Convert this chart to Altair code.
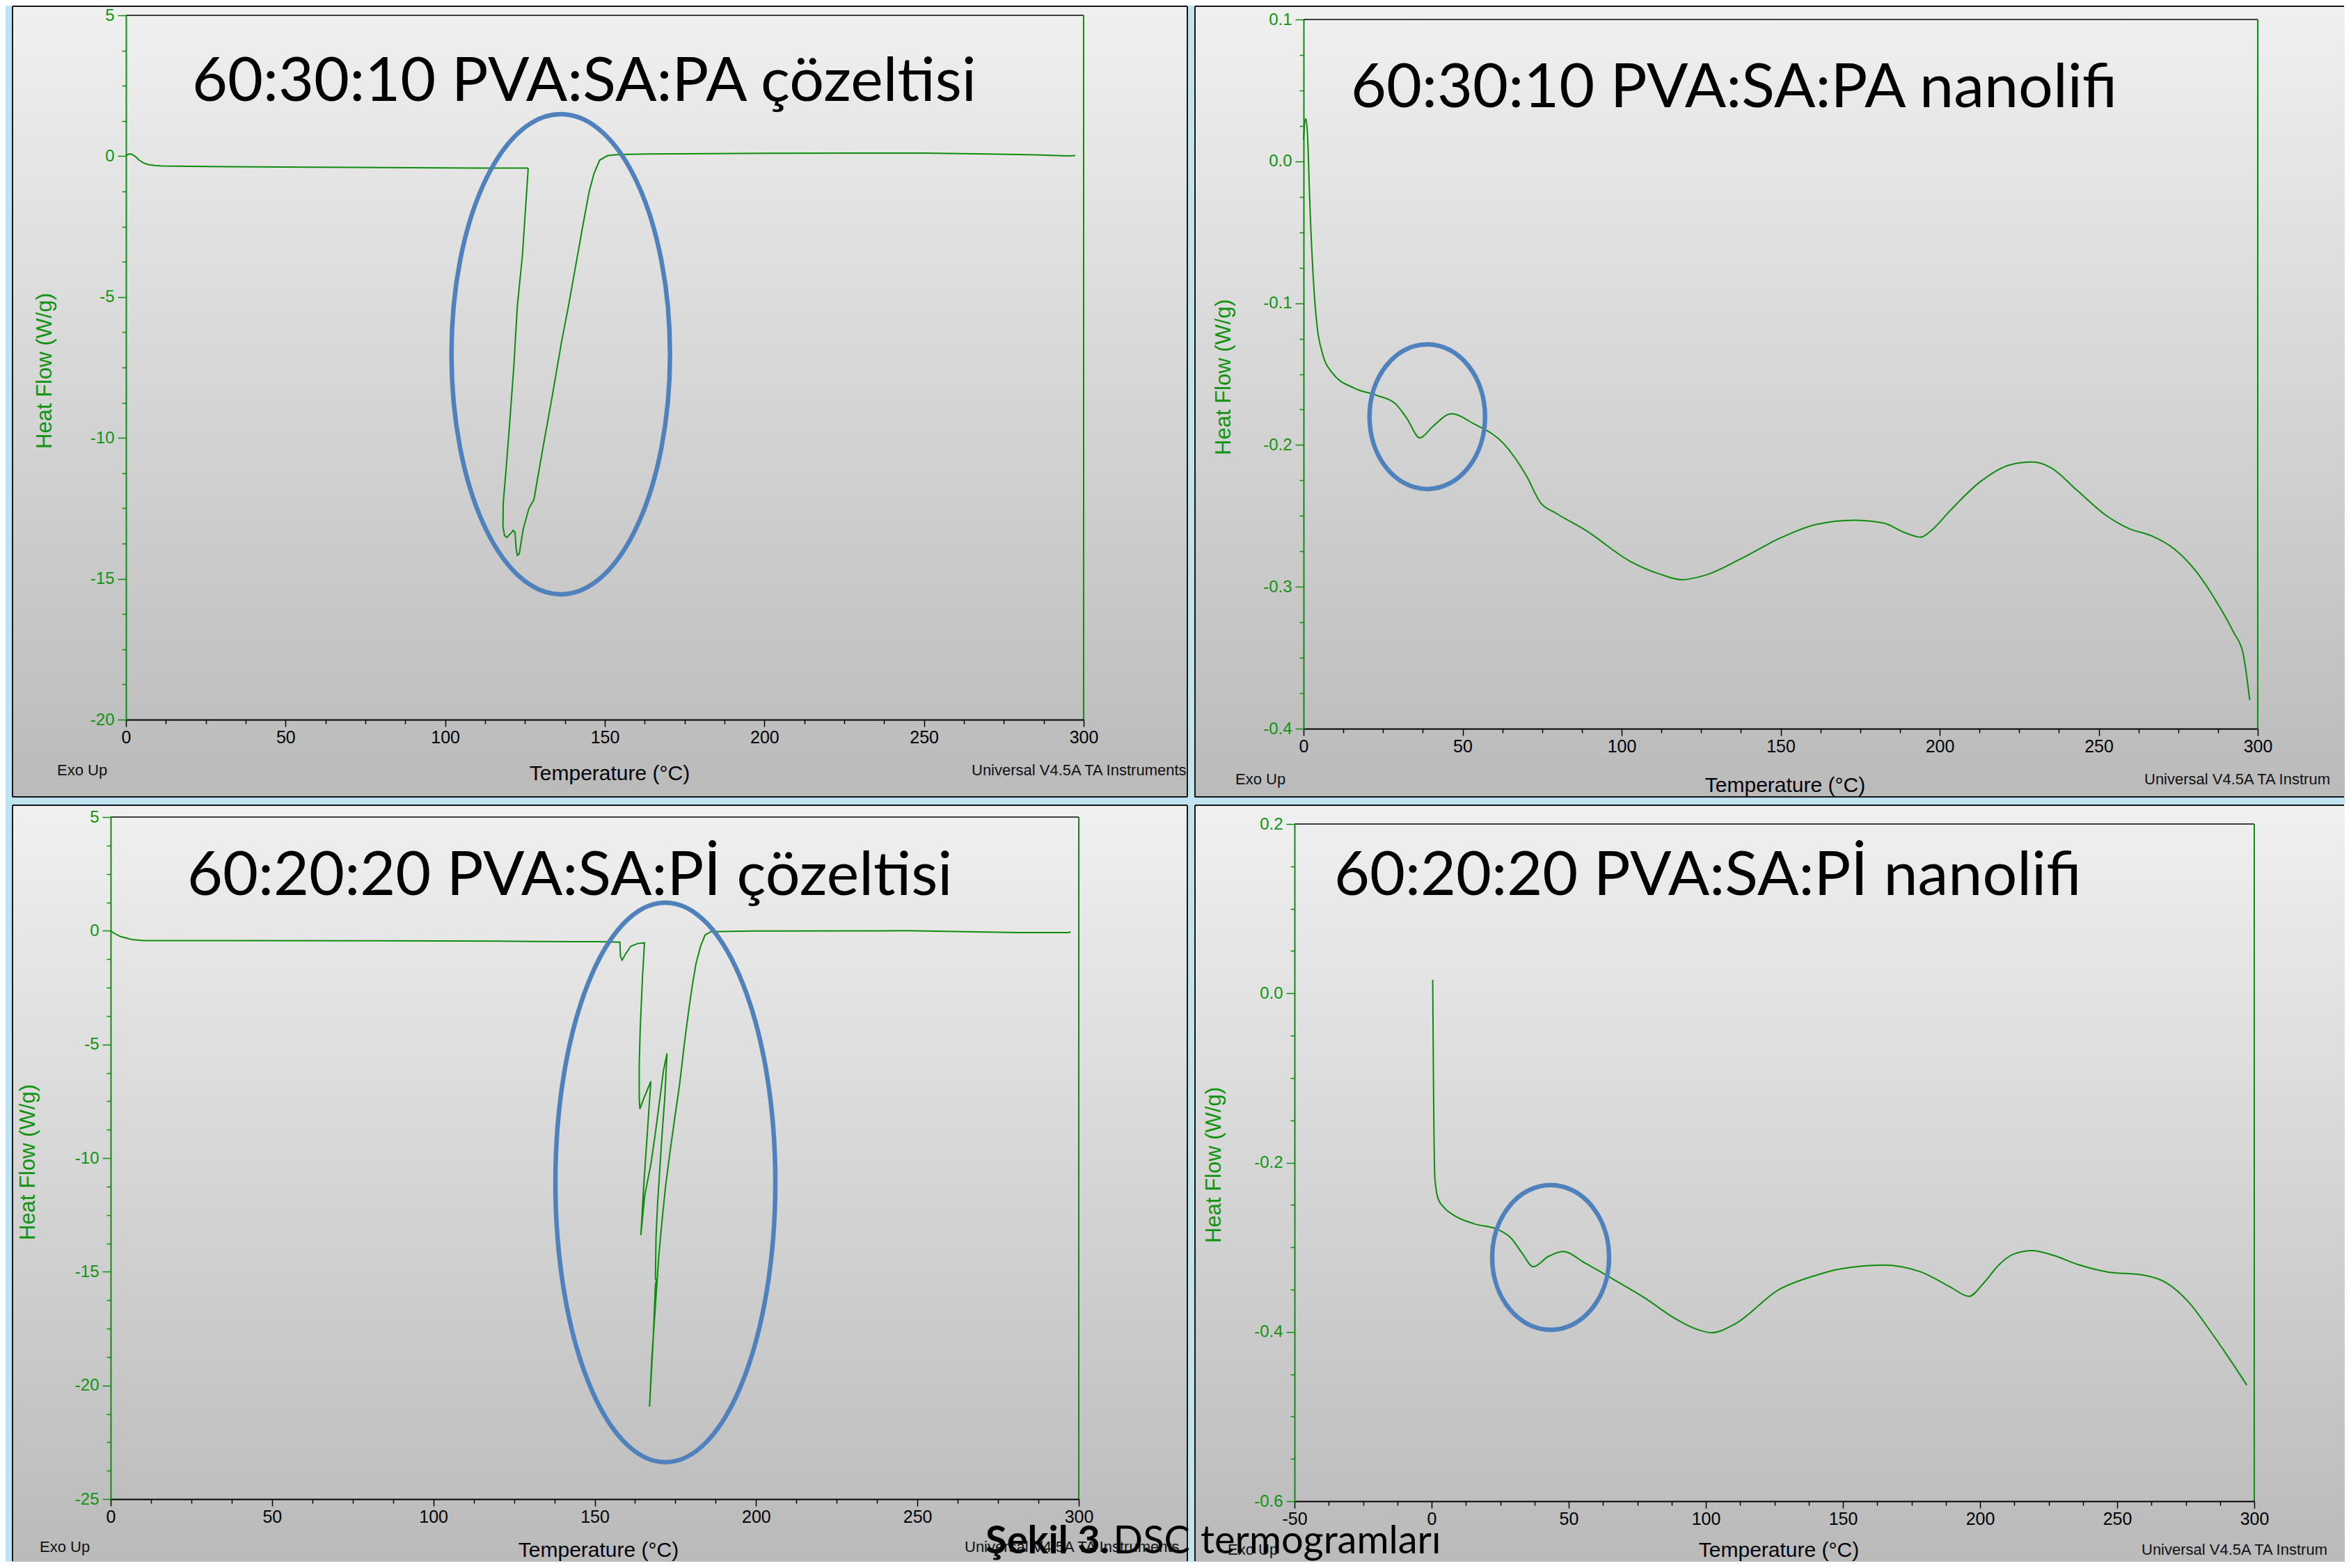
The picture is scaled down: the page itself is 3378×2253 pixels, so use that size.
import altair as alt
import pandas as pd

# ---------------- data ----------------
P1_T = [0, 0.8, 1.6, 2.8, 4.1, 5.5, 7.0, 9.0, 11.4, 20, 31.8, 58.6, 90, 110, 125.8, 126.0,
        124.2, 122.6, 121.5, 120.1, 119.0, 118.2, 118.1, 118.6, 119.3, 120.8,
        121.3, 121.9, 122.2, 122.6, 123.2, 124.4, 126.2, 127.8, 128.8, 130.6,
        133.5, 136.4, 138.6, 140.8, 143.0, 145.1, 146.6, 148.4, 150.9, 154.6,
        163.3, 200, 230, 250, 270, 285, 295, 297.4]
P1_Y = [0.02, 0.07, 0.08, 0.0, -0.14, -0.24, -0.30, -0.33, -0.35, -0.36, -0.37, -0.39, -0.41, -0.42, -0.42, -0.45,
        -3.51, -5.33, -7.47, -9.62, -11.22, -12.29, -13.15, -13.47, -13.53, -13.36,
        -13.28, -13.36, -13.90, -14.17, -14.12, -13.26, -12.51, -12.19, -11.54, -10.37,
        -8.54, -6.62, -5.33, -3.94, -2.54, -1.26, -0.62, -0.14, 0.02, 0.06,
        0.08, 0.10, 0.11, 0.11, 0.08, 0.05, 0.01, 0.02]

P2_T = [0.0, 0.4, 0.8, 1.3, 1.9, 3.1, 4.3, 5.9, 9.0, 16.0,
        23.0, 28.9, 32.4, 36.6, 40.6, 46.5, 53.5, 62.9, 69.9, 74.6,
        79.3, 88.6, 102.7, 112.0, 119.0, 126.0, 137.7, 149.5, 161.2, 172.9,
        182.3, 189.3, 194.0, 197.5, 203.4, 212.7, 222.1, 229.1, 235.0, 243.2,
        252.5, 259.6, 266.6, 273.6, 280.6, 287.7, 292.4, 295.4, 296.4, 297.5]
P2_Y = [0.015, 0.028, 0.030, 0.016, -0.025, -0.084, -0.117, -0.135, -0.149, -0.160,
        -0.165, -0.171, -0.181, -0.195, -0.187, -0.178, -0.185, -0.199, -0.221, -0.241,
        -0.248, -0.260, -0.282, -0.291, -0.295, -0.292, -0.280, -0.266, -0.256, -0.253,
        -0.255, -0.262, -0.265, -0.260, -0.246, -0.226, -0.214, -0.212, -0.216, -0.232,
        -0.250, -0.259, -0.264, -0.273, -0.289, -0.313, -0.332, -0.347, -0.361, -0.380]

P3_T = [0, 0.8, 3.1, 6.6, 10.1, 40, 82.6, 120, 142.5, 150.4,
        157.8, 158.0, 158.5, 159.4, 161.2, 163.4, 165.4, 165.4, 164.8, 164.1,
        163.8, 163.8, 164.0, 165.2, 166.3, 167.4, 166.3, 165.2, 164.3, 165.5,
        167.4, 168.8, 170.2, 171.3, 172.4, 171.7, 170.9, 170.2, 169.5, 169.0,
        168.8, 169.1, 168.8, 168.1, 167.0, 167.7, 168.8, 169.9, 170.9, 172.0,
        173.4, 174.9, 176.3, 177.8, 179.2, 180.3, 181.4, 182.8, 184.2, 186.0,
        198.6, 246.3, 281.4, 296.6, 297.5]
P3_Y = [0.0, -0.09, -0.26, -0.39, -0.43, -0.43, -0.44, -0.46, -0.48, -0.48,
        -0.50, -1.14, -1.29, -1.06, -0.68, -0.56, -0.53, -0.60, -2.05, -4.34,
        -5.86, -7.38, -7.84, -7.38, -7.00, -6.62, -8.90, -11.19, -13.39, -11.64,
        -10.27, -8.90, -7.38, -6.16, -5.40, -7.38, -8.90, -10.42, -11.95, -13.47,
        -15.30, -15.37, -15.60, -18.04, -20.93, -18.80, -16.52, -14.23, -12.71, -11.19,
        -9.66, -8.14, -6.77, -4.95, -3.42, -2.36, -1.44, -0.68, -0.19, -0.04,
        -0.01, 0.0, -0.08, -0.08, -0.05]

P4_T = [0.4, 0.7, 1.2, 2.3, 4.5, 8.5, 15.3, 24.8, 28.9, 33.0,
        37.1, 42.5, 47.9, 56.1, 66.9, 77.8, 88.7, 96.8, 102.2, 110.4,
        126.7, 140.3, 148.4, 164.7, 178.3, 189.2, 196.0, 201.4, 206.8, 212.3,
        219.0, 227.2, 235.3, 246.2, 259.8, 267.9, 276.1, 284.2, 291.0, 297.3]
P4_Y = [0.016, -0.114, -0.219, -0.242, -0.253, -0.263, -0.272, -0.280, -0.289, -0.307,
        -0.323, -0.311, -0.305, -0.319, -0.339, -0.360, -0.384, -0.397, -0.401, -0.391,
        -0.350, -0.333, -0.326, -0.321, -0.329, -0.347, -0.358, -0.342, -0.321, -0.308,
        -0.304, -0.310, -0.320, -0.329, -0.333, -0.342, -0.365, -0.400, -0.432, -0.463]

# major tick values
X_MAJ = [0, 50, 100, 150, 200, 250, 300]
X4_MAJ = [-50, 0, 50, 100, 150, 200, 250, 300]
Y1_MAJ = [5, 0, -5, -10, -15, -20]
Y2_MAJ = [0.1, 0.0, -0.1, -0.2, -0.3, -0.4]
Y3_MAJ = [5, 0, -5, -10, -15, -20, -25]
Y4_MAJ = [0.2, 0.0, -0.2, -0.4, -0.6]

TITLES = ["60:30:10 PVA:SA:PA çözeltisi", "60:30:10 PVA:SA:PA nanolifi",
          "60:20:20 PVA:SA:Pİ çözeltisi", "60:20:20 PVA:SA:Pİ nanolifi"]
X_TITLE = "Temperature (°C)"
Y_TITLE = "Heat Flow (W/g)"
EXO = "Exo Up"
UNIV = "Universal V4.5A TA Instruments"
CAP_BOLD = "Şekil 3."
CAP_MID = "DSC"
CAP_END = "termogramları"

# ellipse annotations: centre (data units), semi-axes (px)
ELL = [(136.2, -7.03, 157, 345), (38.9, -0.180, 83, 104),
       (171.9, -11.07, 158, 402), (43.4, -0.312, 84, 104)]

GREEN = "#0d8c0d"
LGREEN = "#109410"
BLUE = "#4f81bd"
AXF = "Liberation Sans"
TF = "Lato"


def with_minor(majors):
    vals = []
    for a, b in zip(majors[:-1], majors[1:]):
        for k in range(4):
            vals.append(round(a + (b - a) * k / 4, 6))
    vals.append(majors[-1])
    return vals


def txt(one, text, x, y, font, size, color, align="left", baseline="alphabetic",
        weight="normal", angle=0, limit=0):
    kw = dict(text=text, font=font, fontSize=size, color=color, align=align,
              baseline=baseline, fontWeight=weight)
    if angle:
        kw["angle"] = angle
    if limit:
        kw.update(limit=limit, ellipsis=" ")
    return alt.Chart(one).mark_text(**kw).encode(x=alt.value(x), y=alt.value(y))


def panel(T, Y, xdom, ydom, xmaj, ymaj, xstep, ystep, yfmt, CW, CH, plot, borders,
          title, tpos, xtpos, ytpos, ell, exo_pos, univ_pos, univ_limit=0,
          interp="linear", extras=()):
    x0, x1, y0, y1 = plot
    data = pd.DataFrame({"T": T, "Y": Y, "i": list(range(len(T)))})
    one = pd.DataFrame({"k": [0]})
    xtest = f"abs(datum.value/{xstep} - round(datum.value/{xstep})) < 0.001"
    ytest = f"abs(datum.value/{ystep} - round(datum.value/{ystep})) < 0.001"
    xaxis = alt.Axis(
        values=with_minor(xmaj), orient="bottom", grid=False, zindex=1,
        offset=-(CH - y1), title="",
        labelExpr=f"{xtest} ? (datum.value < 0 ? '-' : '') + format(abs(datum.value), 'd') : ''",
        labelFont=AXF, labelFontSize=25, labelColor="black", labelPadding=3,
        labelFlush=False, labelOverlap=False,
        tickSize={"condition": {"test": xtest, "value": 10}, "value": 6},
        tickColor="black", tickWidth=1.5, domainColor="black", domainWidth=2)
    yaxis = alt.Axis(
        values=with_minor(ymaj), orient="left", grid=False, zindex=1,
        offset=-x0, title="",
        labelExpr=f"{ytest} ? (datum.value < 0 ? '-' : '') + format(abs(datum.value), '{yfmt}') : ''",
        labelFont=AXF, labelFontSize=24, labelColor=LGREEN, labelPadding=5,
        labelFlush=False, labelOverlap=False,
        tickSize={"condition": {"test": ytest, "value": 12}, "value": 6},
        tickColor=GREEN, tickWidth=1.5, domainColor=GREEN, domainWidth=2)
    xenc = alt.X("T:Q", scale=alt.Scale(domain=xdom, range=[x0, x1], nice=False, zero=False), axis=xaxis)
    yenc = alt.Y("Y:Q", scale=alt.Scale(domain=ydom, range=[y1, y0], nice=False, zero=False), axis=yaxis)

    grad = alt.LinearGradient(
        gradient="linear",
        stops=[alt.GradientStop(color="#f0f0f0", offset=0),
               alt.GradientStop(color="#bababa", offset=1)],
        x1=0, x2=0, y1=0, y2=1)
    layers = [alt.Chart(one).mark_rect(color=grad).encode(
        x=alt.value(0), x2=alt.value(CW), y=alt.value(0), y2=alt.value(CH))]

    seg = {"left": (1, 1, 1, CH - 1),
           "right": (CW - 1, CW - 1, 1, CH - 1),
           "top": (1, CW - 1, 1, 1),
           "bottom": (1, CW - 1, CH - 1, CH - 1)}
    for side in borders:
        a1, a2, b1, b2 = seg[side]
        layers.append(alt.Chart(one).mark_rule(color="#161616", strokeWidth=2).encode(
            x=alt.value(a1), x2=alt.value(a2), y=alt.value(b1), y2=alt.value(b2)))

    layers.append(alt.Chart(one).mark_rule(color="#404040", strokeWidth=2).encode(
        x=alt.value(x0), x2=alt.value(x1), y=alt.value(y0), y2=alt.value(y0)))
    layers.append(alt.Chart(one).mark_rule(color=GREEN, strokeWidth=2).encode(
        x=alt.value(x1), x2=alt.value(x1), y=alt.value(y0), y2=alt.value(y1)))

    layers.append(alt.Chart(data).mark_line(color=GREEN, strokeWidth=2, interpolate=interp).encode(
        x=xenc, y=yenc, order=alt.Order("i:Q")))

    cx, cy, a, b = ell
    path = f"M {-a} 0 A {a} {b} 0 1 0 {a} 0 A {a} {b} 0 1 0 {-a} 0 Z"
    layers.append(alt.Chart(pd.DataFrame({"T": [cx], "Y": [cy]})).mark_point(
        shape=path, size=4, filled=False, color=BLUE, stroke=BLUE, strokeWidth=6.5,
        opacity=1).encode(x=xenc, y=yenc))

    layers.append(txt(one, title, tpos[0], tpos[1], TF, 88, "black"))
    layers.append(txt(one, X_TITLE, xtpos[0], xtpos[1], AXF, 30, "black", align="center"))
    layers.append(txt(one, Y_TITLE, ytpos[0], ytpos[1], AXF, 31, LGREEN, align="center",
                      baseline="middle", angle=270))
    layers.append(txt(one, EXO, exo_pos[0], exo_pos[1], AXF, 22, "#111111"))
    layers.append(txt(one, UNIV, univ_pos[0], univ_pos[1], AXF, 22, "#111111", limit=univ_limit))

    for (t, px, py, al, wt) in extras:
        layers.append(txt(one, t, px, py, TF, 56, "black", align=al, weight=wt))

    return alt.layer(*layers).properties(width=CW, height=CH)


# cell sizes: left column 1690 wide, right column 1653; top row 1138 tall, bottom 1088
p1 = panel(P1_T, P1_Y, [0, 300], [-20, 5], X_MAJ, Y1_MAJ, 50, 5, "d",
           1690, 1138, (164, 1540, 14, 1026), ["left", "right", "top", "bottom"],
           TITLES[0], (259, 137), (859, 1113), (48, 525), ELL[0],
           (65, 1106), (1379, 1106))
p2 = panel(P2_T, P2_Y, [0, 300], [-0.4, 0.1], X_MAJ, Y2_MAJ, 50, 0.1, ".1f",
           1653, 1138, (157, 1528, 20, 1039), ["left", "top", "bottom"],
           TITLES[1], (225, 146), (849, 1130), (43, 534), ELL[1],
           (59, 1119), (1365, 1119), univ_limit=283, interp="monotone")
p3 = panel(P3_T, P3_Y, [0, 300], [-25, 5], X_MAJ, Y3_MAJ, 50, 5, "d",
           1690, 1088, (142, 1533, 18, 998), ["left", "right", "top"],
           TITLES[2], (252, 130), (843, 1081), (24, 514), ELL[2],
           (40, 1074), (1369, 1074),
           extras=[(CAP_BOLD, 1399, 1076, "left", "bold"),
                   (CAP_MID, 1693, 1076, "right", "normal")])
p4 = panel(P4_T, P4_Y, [-50, 300], [-0.6, 0.2], X4_MAJ, Y4_MAJ, 50, 0.2, ".1f",
           1653, 1088, (144, 1523, 28, 1001), ["left", "top"],
           TITLES[3], (201, 130), (840, 1081), (29, 518), ELL[3],
           (48, 1078), (1361, 1078), univ_limit=287, interp="monotone",
           extras=[(CAP_END, 9, 1076, "left", "normal")])

chart = alt.vconcat(
    alt.hconcat(p1, p2, spacing=9, bounds="flush"),
    alt.hconcat(p3, p4, spacing=9, bounds="flush"),
    spacing=10,
).properties(
    background="#bfe3f1",
    padding={"left": 9, "top": 0, "right": 0, "bottom": 0},
).configure_view(strokeWidth=0)

chart.save("out.html", embed_options={"renderer": "svg", "actions": False})
